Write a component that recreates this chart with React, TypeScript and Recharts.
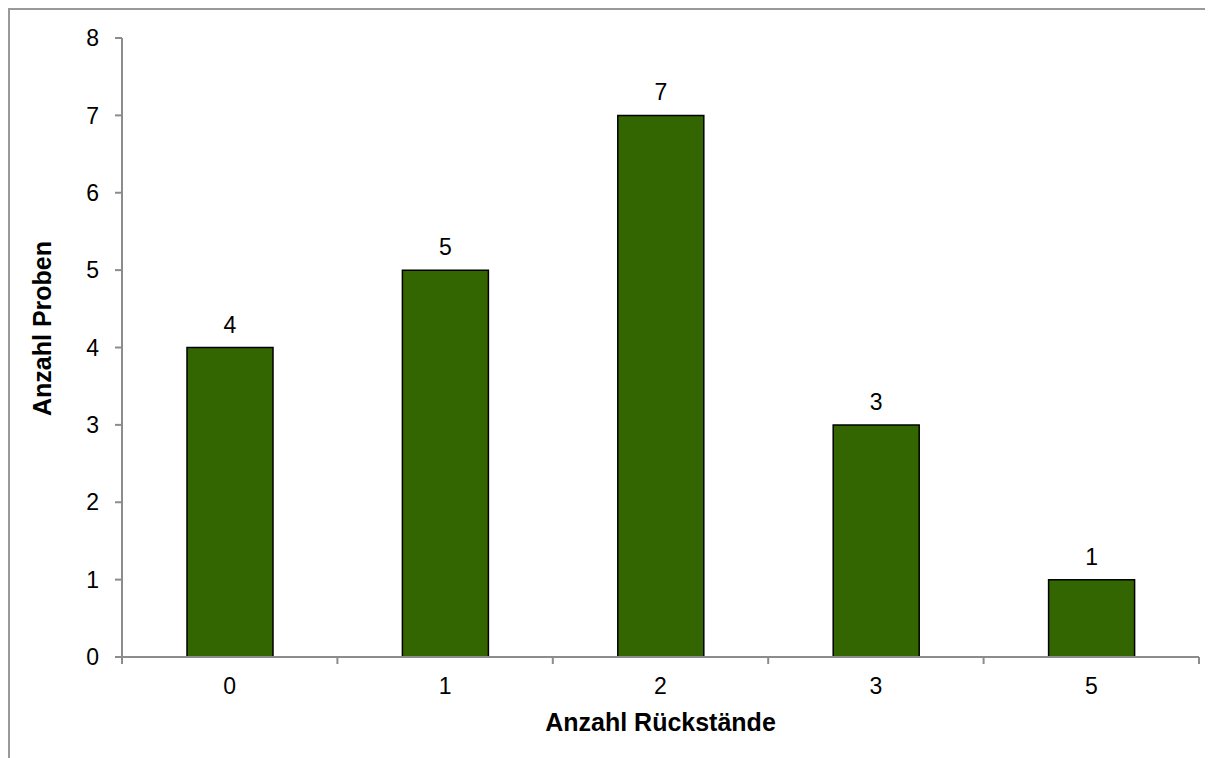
import React from "react";
import { BarChart, Bar, XAxis, YAxis, LabelList } from "recharts";

const categories = ["0", "1", "2", "3", "5"];
const counts = [4, 5, 7, 3, 1];
const yTicks = [0, 1, 2, 3, 4, 5, 6, 7, 8];

const data = categories.map((c, i) => ({ cat: c, value: counts[i] }));

const FONT = "'Liberation Sans', Arial, sans-serif";
const AXIS = "#8c8c8c";
const TICK_FS = 23;
const TITLE_FS = 25;

const XTick = (props: any) => {
  const { x, y, payload, index, visibleTicksCount } = props;
  const off = payload && typeof payload.offset === "number" ? payload.offset : 0;
  const axisY = y - 7;
  const last = index === visibleTicksCount - 1;
  return (
    <g>
      <line x1={x - off} x2={x - off} y1={axisY} y2={axisY + 7} stroke={AXIS} strokeWidth={2} />
      {last && <line x1={x + off} x2={x + off} y1={axisY} y2={axisY + 7} stroke={AXIS} strokeWidth={2} />}
      <text x={x} y={axisY + 37} textAnchor="middle" fontFamily={FONT} fontSize={TICK_FS} fill="#000">
        {payload.value}
      </text>
    </g>
  );
};

const YLabel = (props: any) => {
  const vb = props.viewBox || { x: 0, y: 0, width: 0, height: 0 };
  const cx = vb.x + 32;
  const cy = vb.y + vb.height / 2 - 19;
  return (
    <text
      x={cx}
      y={cy}
      transform={`rotate(-90, ${cx}, ${cy})`}
      textAnchor="middle"
      dominantBaseline="central"
      fontFamily={FONT}
      fontWeight="bold"
      fontSize={TITLE_FS}
      fill="#000"
    >
      Anzahl Proben
    </text>
  );
};

const XLabel = (props: any) => {
  const vb = props.viewBox || { x: 0, y: 0, width: 0, height: 0 };
  return (
    <text
      x={vb.x + vb.width / 2}
      y={vb.y + 74}
      textAnchor="middle"
      fontFamily={FONT}
      fontWeight="bold"
      fontSize={TITLE_FS}
      fill="#000"
    >
      Anzahl Rückstände
    </text>
  );
};

export default function App() {
  return (
    <div
      style={{
        width: 1203,
        height: 748,
        borderTop: "2px solid #999",
        borderLeft: "2px solid #999",
        background: "#fff",
      }}
    >
      <BarChart
        width={1203}
        height={748}
        data={data}
        margin={{ top: 28, right: 14, bottom: 11, left: 0 }}
      >
        <XAxis
          dataKey="cat"
          height={90}
          tickLine={false}
          tickSize={7}
          tickMargin={0}
          axisLine={{ stroke: AXIS, strokeWidth: 2 }}
          tick={<XTick />}
          interval={0}
          label={<XLabel />}
        />
        <YAxis
          width={112}
          domain={[0, 8]}
          ticks={yTicks}
          interval={0}
          tickSize={7}
          tickMargin={16}
          axisLine={{ stroke: AXIS, strokeWidth: 2 }}
          tickLine={{ stroke: AXIS, strokeWidth: 2 }}
          tick={{ fontFamily: FONT, fontSize: TICK_FS, fill: "#000" }}
          label={<YLabel />}
        />
        <Bar dataKey="value" fill="#336600" stroke="#000" strokeWidth={1.5} barSize={86} isAnimationActive={false}>
          <LabelList dataKey="value" position="top" offset={15} fontFamily={FONT} fontSize={TICK_FS} fill="#000" />
        </Bar>
      </BarChart>
    </div>
  );
}
